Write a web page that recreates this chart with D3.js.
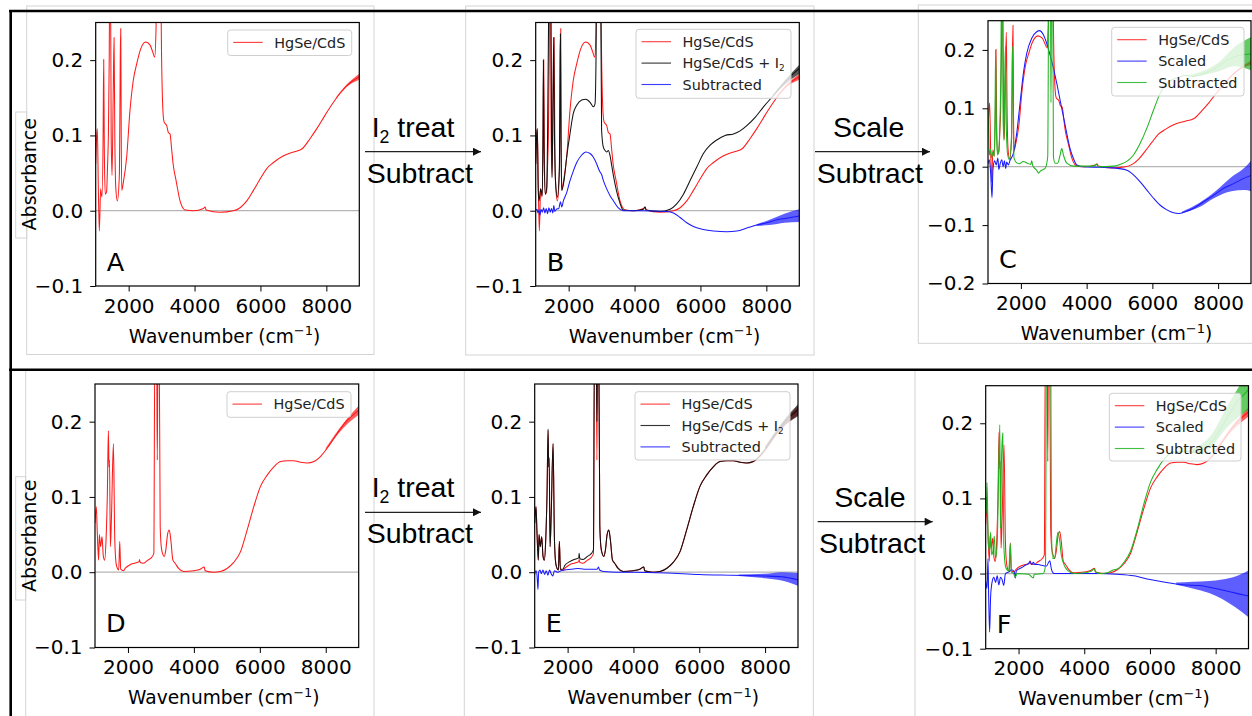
<!DOCTYPE html>
<html>
<head>
<meta charset="utf-8">
<script src="https://cdn.jsdelivr.net/npm/d3@7"></script>
<style>
  body { margin: 0; background: #fff; }
  svg { display: block; }
</style>
</head>
<body>
<svg id="fig" width="1252" height="716"></svg>
<script>
// ---- data: [wavenumber, absorbance] ----
const wnDomain = [1000, 9000];
const xTicks = [2000, 4000, 6000, 8000];
const xMinor = [1000, 1500, 2500, 3000, 3500, 4500, 5000, 5500, 6500, 7000, 7500, 8500, 9000];
const yTicks = [-0.1, 0, 0.1, 0.2];
const yTicksC = [-0.2, -0.1, 0, 0.1, 0.2];
const yMinor = [-0.08, -0.06, -0.04, -0.02, 0.02, 0.04, 0.06, 0.08, 0.12, 0.14, 0.16, 0.18, 0.22, 0.24];
const yMinorC = [-0.18, -0.16, -0.14, -0.12].concat(yMinor);

const legendA = ["HgSe/CdS"];
const legendB = ["HgSe/CdS", "HgSe/CdS + I_{2}", "Subtracted"];
const legendC = ["HgSe/CdS", "Scaled", "Subtracted"];
const panelLetters = ["A", "B", "C", "D", "E", "F"];
const stepTop = ["I_{2} treat", "Subtract"];
const stepScale = ["Scale", "Subtract"];

// top row (A, B, C)
const topHgSe = [[1000,0.062],[1030,0.1],[1050,0.109],[1080,0.03],[1110,-0.027],[1150,0.029],[1190,0.018],[1225,0.1],[1243,0.201],[1262,0.08],[1290,0.022],[1330,0.025],[1360,0.06],[1385,0.1],[1410,0.2],[1425,0.3],[1450,0.3],[1470,0.1],[1496,0.047],[1530,0.15],[1557,0.23],[1580,0.1],[1610,0.03],[1658,0.013],[1720,0.05],[1745,0.2],[1760,0.242],[1775,0.1],[1790,0.027],[1840,0.038],[1940,0.071],[2040,0.133],[2140,0.173],[2250,0.196],[2350,0.213],[2518,0.224],[2650,0.22],[2730,0.211],[2790,0.204],[2830,0.24],[2850,0.3],[2970,0.3],[3004,0.191],[3040,0.133],[3075,0.118],[3155,0.113],[3205,0.104],[3257,0.102],[3300,0.084],[3350,0.062],[3440,0.04],[3560,0.013],[3713,0.001],[3965,0.0],[4270,0.003],[4320,0.005],[4350,0.001],[4775,-0.002],[5180,0.0],[5383,0.004],[5585,0.013],[5787,0.027],[5990,0.042],[6192,0.056],[6395,0.064],[6700,0.073],[7002,0.078],[7255,0.082],[7508,0.096],[7710,0.109],[7963,0.127],[8216,0.144],[8418,0.156],[8722,0.17],[9000,0.178]];
const topHgSeNoise = [[8300,0.149,0.151],[8600,0.164,0.167],[9000,0.174,0.182]];

const topI2 = [[1000,0.062],[1030,0.1],[1050,0.109],[1075,0.03],[1100,0.013],[1150,0.029],[1200,0.02],[1220,0.1],[1233,0.2],[1255,0.08],[1290,0.022],[1335,0.031],[1360,0.098],[1390,0.25],[1405,0.3],[1460,0.3],[1480,0.1],[1496,0.044],[1525,0.15],[1547,0.23],[1570,0.1],[1600,0.04],[1658,0.018],[1720,0.06],[1740,0.2],[1750,0.235],[1765,0.1],[1790,0.027],[1860,0.04],[1940,0.071],[2040,0.102],[2140,0.129],[2245,0.14],[2397,0.147],[2518,0.148],[2650,0.144],[2750,0.138],[2800,0.142],[2830,0.2],[2850,0.3],[2970,0.3],[3000,0.107],[3055,0.084],[3105,0.08],[3155,0.078],[3205,0.08],[3257,0.073],[3300,0.062],[3370,0.044],[3450,0.027],[3550,0.011],[3650,0.001],[3965,0.0],[4270,0.002],[4320,0.005],[4350,0.001],[4775,-0.001],[5080,0.002],[5280,0.009],[5484,0.022],[5686,0.04],[5888,0.058],[6090,0.076],[6293,0.087],[6496,0.094],[6749,0.1],[7002,0.102],[7204,0.106],[7407,0.113],[7660,0.124],[7913,0.138],[8216,0.153],[8520,0.169],[8773,0.18],[9000,0.189]];
const topI2Noise = [[8200,0.152,0.154],[8600,0.169,0.175],[9000,0.182,0.194]];

const topSubB = [[1000,0.0],[1040,0.002],[1070,-0.003],[1100,0.001],[1130,-0.006],[1160,0.002],[1200,-0.002],[1240,0.004],[1280,-0.003],[1320,0.003],[1360,-0.004],[1400,0.004],[1440,-0.002],[1480,0.003],[1520,-0.003],[1550,0.007],[1580,-0.001],[1630,0.002],[1700,0.003],[1750,0.012],[1790,0.005],[1840,0.013],[1941,0.024],[2042,0.04],[2144,0.053],[2245,0.064],[2397,0.074],[2518,0.078],[2650,0.076],[2751,0.071],[2852,0.062],[2933,0.053],[2974,0.05],[3000,0.048],[3055,0.04],[3155,0.029],[3257,0.02],[3360,0.013],[3500,0.004],[3650,0.0],[4200,0.0],[4978,-0.001],[5180,-0.003],[5383,-0.009],[5585,-0.016],[5787,-0.021],[6090,-0.025],[6395,-0.027],[6800,-0.028],[7103,-0.027],[7407,-0.023],[7710,-0.019],[8014,-0.016],[8318,-0.012],[8620,-0.01],[9000,-0.007]];
const topSubBNoise = [[7700,-0.02,-0.018],[8100,-0.019,-0.012],[8550,-0.016,-0.004],[9000,-0.015,0.002]];

const topScaledC = [[1000,0.005],[1040,0.012],[1080,-0.01],[1122,-0.053],[1150,-0.005],[1200,0.01],[1250,0.003],[1300,0.015],[1330,-0.005],[1370,0.005],[1420,0.012],[1460,0.0],[1500,0.01],[1540,-0.003],[1568,0.008],[1620,0.003],[1670,0.011],[1771,0.023],[1873,0.057],[1975,0.109],[2076,0.16],[2178,0.194],[2330,0.22],[2482,0.231],[2563,0.233],[2685,0.226],[2787,0.211],[2888,0.191],[2990,0.169],[3091,0.143],[3193,0.114],[3294,0.086],[3396,0.057],[3497,0.031],[3599,0.014],[3700,0.003],[3904,0.0],[4400,-0.001],[4817,-0.002],[5223,-0.006],[5426,-0.014],[5629,-0.026],[5832,-0.04],[6036,-0.054],[6239,-0.066],[6442,-0.074],[6645,-0.079],[6797,-0.08],[7000,-0.077],[7254,-0.071],[7558,-0.06],[7863,-0.049],[8168,-0.037],[8472,-0.029],[8777,-0.02],[9000,-0.015]];
const topScaledCNoise = [[6900,-0.08,-0.077],[7400,-0.07,-0.063],[7900,-0.053,-0.043],[8400,-0.042,-0.018],[8800,-0.04,-0.002],[9000,-0.042,0.01]];

const topSubC = [[1000,0.097],[1020,0.06],[1040,0.02],[1080,0.03],[1110,0.015],[1150,0.025],[1190,0.018],[1215,0.1],[1233,0.2],[1255,0.07],[1290,0.02],[1330,0.03],[1360,0.07],[1390,0.16],[1410,0.3],[1440,0.3],[1460,0.08],[1487,0.045],[1510,0.15],[1530,0.206],[1560,0.06],[1600,0.02],[1650,0.012],[1720,0.06],[1740,0.206],[1760,0.15],[1790,0.015],[1850,0.008],[1950,0.005],[2076,0.009],[2200,0.006],[2300,0.004],[2330,0.01],[2360,0.002],[2480,-0.006],[2540,-0.011],[2600,-0.007],[2736,-0.003],[2817,0.017],[2848,0.3],[2900,0.3],[2915,0.11],[2935,0.3],[2970,0.3],[2990,0.017],[3040,0.006],[3120,0.006],[3193,0.02],[3244,0.031],[3294,0.02],[3396,0.006],[3599,0.001],[4200,0.001],[4310,0.004],[4350,0.0],[4817,0.001],[5020,0.004],[5223,0.009],[5426,0.02],[5629,0.04],[5832,0.066],[6036,0.097],[6239,0.126],[6442,0.143],[6746,0.152],[7000,0.156],[7254,0.155],[7600,0.16],[7900,0.168],[8269,0.182],[8600,0.19],[9000,0.193]];
const topSubCNoise = [[7200,0.153,0.158],[8000,0.163,0.178],[8500,0.172,0.205],[9000,0.165,0.222]];

// bottom row (D, E, F)
const botHgSe = [[1000,0.065],[1040,0.087],[1070,0.052],[1110,0.016],[1132,0.05],[1170,0.034],[1213,0.047],[1253,0.021],[1294,0.016],[1335,0.043],[1375,0.105],[1406,0.188],[1425,0.14],[1440,0.149],[1467,0.034],[1500,0.074],[1558,0.171],[1600,0.043],[1639,0.012],[1680,0.005],[1720,0.003],[1750,0.041],[1780,0.004],[1862,0.002],[1913,0.005],[2065,0.01],[2200,0.012],[2339,0.014],[2350,0.017],[2370,0.013],[2470,0.012],[2600,0.016],[2724,0.02],[2785,0.025],[2815,0.3],[2870,0.3],[2890,0.149],[2910,0.3],[2947,0.3],[2978,0.061],[3010,0.034],[3049,0.025],[3100,0.021],[3150,0.03],[3200,0.05],[3251,0.056],[3300,0.043],[3363,0.016],[3430,0.012],[3535,0.005],[3688,0.001],[3992,0.002],[4195,0.004],[4316,0.007],[4340,0.002],[4600,0.0],[4803,0.001],[5006,0.005],[5209,0.013],[5412,0.027],[5615,0.056],[5817,0.087],[6020,0.114],[6223,0.129],[6426,0.14],[6629,0.147],[6832,0.148],[7034,0.148],[7237,0.146],[7440,0.145],[7643,0.147],[7846,0.154],[8049,0.165],[8252,0.178],[8454,0.191],[8657,0.202],[8860,0.21],[9000,0.215]];
const botHgSeNoise = [[8000,0.162,0.165],[8500,0.19,0.196],[9000,0.209,0.221]];

const botI2 = [[1000,0.065],[1040,0.087],[1070,0.052],[1110,0.016],[1132,0.05],[1170,0.034],[1213,0.047],[1253,0.021],[1294,0.016],[1335,0.043],[1375,0.105],[1406,0.19],[1425,0.14],[1440,0.152],[1467,0.034],[1500,0.074],[1558,0.171],[1600,0.043],[1639,0.012],[1680,0.005],[1720,0.003],[1750,0.041],[1780,0.004],[1862,0.004],[1913,0.009],[2065,0.014],[2200,0.017],[2339,0.019],[2350,0.025],[2370,0.018],[2470,0.017],[2600,0.021],[2724,0.025],[2785,0.03],[2815,0.3],[2870,0.3],[2890,0.2],[2910,0.3],[2947,0.3],[2978,0.063],[3010,0.035],[3049,0.025],[3100,0.021],[3150,0.03],[3200,0.05],[3251,0.056],[3300,0.043],[3363,0.016],[3430,0.012],[3535,0.005],[3688,0.001],[3992,0.002],[4195,0.004],[4316,0.007],[4340,0.002],[4600,0.0],[4803,0.001],[5006,0.005],[5209,0.013],[5412,0.027],[5615,0.056],[5817,0.087],[6020,0.114],[6223,0.129],[6426,0.14],[6629,0.147],[6832,0.148],[7034,0.148],[7237,0.146],[7440,0.145],[7643,0.147],[7846,0.155],[8049,0.166],[8252,0.179],[8454,0.192],[8657,0.203],[8860,0.211],[9000,0.216]];
const botI2Noise = [[8000,0.163,0.167],[8500,0.191,0.198],[9000,0.207,0.223]];

const botSubE = [[1000,-0.003],[1040,0.002],[1070,-0.004],[1100,-0.023],[1120,0.0],[1160,0.003],[1200,-0.002],[1250,0.003],[1300,-0.003],[1350,0.002],[1400,-0.004],[1450,0.003],[1500,-0.002],[1550,-0.005],[1600,0.002],[1700,0.0],[1800,0.002],[1900,0.003],[2100,0.004],[2300,0.005],[2500,0.004],[2700,0.004],[2900,0.004],[2937,0.007],[2970,0.003],[3100,0.001],[3500,0.0],[4000,0.0],[5000,-0.001],[6000,-0.003],[7000,-0.004],[8000,-0.005],[8500,-0.006],[9000,-0.01]];
const botSubENoise = [[7200,-0.005,-0.003],[8000,-0.008,-0.002],[8500,-0.011,0.0],[9000,-0.018,-0.001]];

const botScaledF = [[1000,-0.01],[1040,-0.02],[1070,0.02],[1090,-0.03],[1120,-0.078],[1150,-0.03],[1200,-0.01],[1250,-0.005],[1300,-0.012],[1350,-0.003],[1400,-0.015],[1450,-0.005],[1500,-0.008],[1550,-0.016],[1600,0.0],[1700,0.002],[1800,0.005],[1870,0.002],[1900,-0.006],[1930,0.003],[2000,0.006],[2100,0.008],[2200,0.011],[2300,0.013],[2350,0.016],[2400,0.012],[2450,0.015],[2500,0.012],[2600,0.012],[2700,0.011],[2850,0.01],[2950,0.017],[3000,0.006],[3050,0.001],[3100,0.0],[4000,0.0],[4500,0.0],[5000,-0.001],[5500,-0.003],[6000,-0.008],[6500,-0.012],[7000,-0.015],[7500,-0.016],[8000,-0.02],[8500,-0.025],[9000,-0.03]];
const botScaledFNoise = [[6800,-0.015,-0.012],[7300,-0.02,-0.011],[7800,-0.026,-0.01],[8200,-0.034,-0.008],[8600,-0.045,-0.004],[9000,-0.058,0.004]];

const botSubF = [[1000,0.102],[1020,0.08],[1040,0.121],[1080,0.04],[1120,0.03],[1150,0.055],[1180,0.025],[1220,0.03],[1260,0.05],[1300,0.02],[1350,0.04],[1400,0.15],[1430,0.198],[1450,0.06],[1480,0.15],[1520,0.187],[1550,0.04],[1600,0.01],[1650,0.005],[1700,0.003],[1750,0.04],[1780,0.002],[1850,0.0],[1900,-0.005],[1950,0.0],[2300,-0.001],[2450,-0.006],[2480,-0.001],[2750,0.0],[2820,0.01],[2850,0.3],[2980,0.3],[3000,0.06],[3040,0.02],[3100,0.02],[3150,0.04],[3200,0.055],[3250,0.045],[3300,0.025],[3400,0.01],[3500,0.004],[3700,0.0],[4000,0.001],[4200,0.003],[4300,0.006],[4350,0.002],[4500,0.0],[4700,0.001],[4900,0.005],[5006,0.006],[5209,0.015],[5412,0.03],[5615,0.059],[5817,0.093],[6020,0.122],[6223,0.139],[6426,0.152],[6629,0.16],[6832,0.162],[7034,0.163],[7237,0.162],[7440,0.161],[7643,0.165],[7846,0.173],[8049,0.185],[8252,0.2],[8454,0.215],[8657,0.229],[8860,0.238],[9000,0.245]];
const botSubFNoise = [[7200,0.159,0.165],[7800,0.167,0.181],[8400,0.197,0.226],[9000,0.218,0.27]];

// ---- styling ----
const RED = "#ff1a1a", BLACK = "#111", BLUE = "#1a1aff", GREEN = "#1fb51f";
const TICK_FONT = "DejaVu Sans, Verdana, sans-serif";
const ARROW_FONT = "Liberation Sans, Arial, Helvetica, sans-serif";

const svg = d3.select("#fig");
svg.append("rect").attr("width", 1252).attr("height", 716).attr("fill", "#fff");

// text with _{sub} and ^{sup} parts; the shift is undone on the next part
function rich(sel, str, size) {
  const parts = str.split(/(_\{[^}]*\}|\^\{[^}]*\})/).filter(s => s.length);
  let back = 0;
  parts.forEach(s => {
    if (s.startsWith("_{")) {
      const k = size * 0.22;
      sel.append("tspan").attr("dy", back + k).attr("font-size", size * 0.62).text(s.slice(2, -1));
      back = -k;
    } else if (s.startsWith("^{")) {
      const k = -size * 0.4;
      sel.append("tspan").attr("dy", back + k).attr("font-size", size * 0.7).text(s.slice(2, -1));
      back = -k;
    } else {
      const t = sel.append("tspan").text(s);
      if (back) t.attr("dy", back);
      back = 0;
    }
  });
}

// pasted-image boxes
const boxes = [
  [26.7, 6, 347.3, 348.5], [15.7, 112, 11, 126],
  [465.7, 6, 348.3, 349], [918.3, 5, 340, 338.3],
  [25.7, 370.5, 348.3, 350], [15.7, 476.7, 10, 123.3],
  [464.3, 370.5, 349, 350], [915, 370.5, 340, 350]
];
svg.append("g").selectAll("rect").data(boxes).join("rect")
  .attr("x", d => d[0]).attr("y", d => d[1]).attr("width", d => d[2]).attr("height", d => d[3])
  .attr("fill", "none").attr("stroke", "#d4d4d4").attr("stroke-width", 1);

const panels = [
  { x0: 95.7, x1: 359.3, y0: 22.5, y1: 286, yDomain: [-0.1, 0.25], yTicks, yMinor, yLabel: true,
    series: [[topHgSe, topHgSeNoise, RED]], names: legendA, legend: [227.7, 30, 124, 25.5] },
  { x0: 535.7, x1: 799.3, y0: 22.5, y1: 286, yDomain: [-0.1, 0.25], yTicks, yMinor,
    series: [[topHgSe, topHgSeNoise, RED], [topI2, topI2Noise, BLACK], [topSubB, topSubBNoise, BLUE]],
    names: legendB, legend: [636, 29.3, 155, 69] },
  { x0: 988, x1: 1251, y0: 20.7, y1: 283.5, yDomain: [-0.2, 0.25], yTicks: yTicksC, yMinor: yMinorC,
    series: [[topHgSe, topHgSeNoise, RED], [topScaledC, topScaledCNoise, BLUE], [topSubC, topSubCNoise, GREEN]],
    names: legendC, legend: [1111.7, 27.3, 132.3, 68.7] },
  { x0: 95, x1: 358.7, y0: 384, y1: 647.5, yDomain: [-0.1, 0.25], yTicks, yMinor, yLabel: true,
    series: [[botHgSe, botHgSeNoise, RED]], names: legendA, legend: [227, 391.7, 124, 25.6] },
  { x0: 534.7, x1: 798, y0: 384, y1: 647.5, yDomain: [-0.1, 0.25], yTicks, yMinor,
    series: [[botHgSe, botHgSeNoise, RED], [botI2, botI2Noise, BLACK], [botSubE, botSubENoise, BLUE]],
    names: legendB, legend: [635, 391.7, 155, 68.3] },
  { x0: 985.7, x1: 1248.5, y0: 385.7, y1: 648.7, yDomain: [-0.1, 0.25], yTicks, yMinor,
    series: [[botHgSe, botHgSeNoise, RED], [botScaledF, botScaledFNoise, BLUE], [botSubF, botSubFNoise, GREEN]],
    names: legendC, legend: [1109.3, 393.3, 131.7, 67.7] }
];

panels.forEach((p, i) => {
  const x = d3.scaleLinear().domain(wnDomain).range([p.x0, p.x1]);
  const y = d3.scaleLinear().domain(p.yDomain).range([p.y1, p.y0]);
  const g = svg.append("g");
  const clipId = "clip" + i;
  svg.append("clipPath").attr("id", clipId).append("rect")
    .attr("x", p.x0).attr("y", p.y0).attr("width", p.x1 - p.x0).attr("height", p.y1 - p.y0);

  const plot = g.append("g").attr("clip-path", `url(#${clipId})`);
  plot.append("line")
    .attr("x1", p.x0).attr("x2", p.x1).attr("y1", y(0)).attr("y2", y(0))
    .attr("stroke", "#b5b5b5").attr("stroke-width", 1.2);

  const line = d3.line().x(d => x(d[0])).y(d => y(d[1])).curve(d3.curveMonotoneX);
  const band = d3.area().x(d => x(d[0])).y0(d => y(d[1])).y1(d => y(d[2])).curve(d3.curveMonotoneX);
  p.series.forEach(([data, noise, color]) => {
    plot.append("path").datum(noise).attr("d", band).attr("fill", color).attr("opacity", 0.7);
    plot.append("path").datum(data).attr("d", line)
      .attr("fill", "none").attr("stroke", color).attr("stroke-width", 1.05)
      .attr("stroke-linejoin", "round");
  });

  // axes
  const fmtY = d3.format(".1f");
  const xa = g.append("g").attr("transform", `translate(0,${p.y1})`);
  xa.call(d3.axisBottom(x).tickValues(xMinor).tickSize(3).tickFormat(""));
  xa.call(d3.axisBottom(x).tickValues(xTicks).tickSize(5.5).tickPadding(7).tickFormat(d3.format("d")));
  const ya = g.append("g").attr("transform", `translate(${p.x0},0)`);
  ya.call(d3.axisLeft(y).tickValues(p.yMinor).tickSize(3).tickFormat(""));
  ya.call(d3.axisLeft(y).tickValues(p.yTicks).tickSize(5.5).tickPadding(7).tickFormat(fmtY));
  [xa, ya].forEach(a => {
    a.selectAll(".domain").remove();
    a.selectAll("text").filter(function () { return !this.textContent; }).remove();
    a.selectAll("line").attr("stroke", "#000").attr("stroke-width", 1);
    a.selectAll("text").attr("font-family", TICK_FONT).attr("font-size", 20).attr("fill", "#000");
  });

  g.append("rect").attr("x", p.x0).attr("y", p.y0)
    .attr("width", p.x1 - p.x0).attr("height", p.y1 - p.y0)
    .attr("fill", "none").attr("stroke", "#000").attr("stroke-width", 1.2);

  // legend
  const [lx, ly, lw, lh] = p.legend;
  const lg = g.append("g");
  lg.append("rect").attr("x", lx).attr("y", ly).attr("width", lw).attr("height", lh)
    .attr("rx", 3).attr("fill", "#fff").attr("fill-opacity", 0.8)
    .attr("stroke", "#cfcfcf").attr("stroke-width", 1);
  p.names.forEach((name, k) => {
    const cy = ly + 12.4 + k * 21.4;
    lg.append("line").attr("x1", lx + 5.5).attr("x2", lx + 35).attr("y1", cy).attr("y2", cy)
      .attr("stroke", p.series[k][2]).attr("stroke-width", 1.1).attr("opacity", 0.85);
    const t = lg.append("text").attr("x", lx + 46.5).attr("y", cy + 5.2)
      .attr("font-family", TICK_FONT).attr("font-size", 14.4).attr("fill", "#222");
    rich(t, name, 14.4);
  });

  // panel letter
  g.append("text").attr("x", p.x0 + 11).attr("y", p.y1 - 15.5)
    .attr("font-family", TICK_FONT).attr("font-size", 25.5).attr("fill", "#000")
    .text(panelLetters[i]);

  // axis titles
  const xt = g.append("text").attr("x", (p.x0 + p.x1) / 2 - 3).attr("y", p.y1 + 56.5)
    .attr("text-anchor", "middle").attr("font-family", TICK_FONT).attr("font-size", 18.6).attr("fill", "#000");
  rich(xt, "Wavenumber (cm^{\u22121})", 18.6);
  if (p.yLabel) {
    g.append("text")
      .attr("transform", `translate(36,${(p.y0 + p.y1) / 2 + 20}) rotate(-90)`)
      .attr("text-anchor", "middle").attr("font-family", TICK_FONT).attr("font-size", 19).attr("fill", "#000")
      .text("Absorbance");
  }
});

// process arrows between panels
svg.append("defs").append("marker").attr("id", "head")
  .attr("viewBox", "0 0 10 10").attr("refX", 10).attr("refY", 5)
  .attr("markerWidth", 10).attr("markerHeight", 8).attr("markerUnits", "userSpaceOnUse")
  .attr("orient", "auto")
  .append("path").attr("d", "M0,0L10,5L0,10Z").attr("fill", "#111");

const arrows = [
  { labels: stepTop, x1: 365, x2: 481, y: 151.7, tx: [371.7, 366.7], ty: [136.7, 183] },
  { labels: stepScale, x1: 815, x2: 930, y: 151.7, tx: [833, 816.7], ty: [136.7, 183] },
  { labels: stepTop, x1: 365, x2: 481, y: 512.3, tx: [371.7, 366.7], ty: [496.7, 543.3] },
  { labels: stepScale, x1: 817.7, x2: 932.7, y: 521.7, tx: [834.3, 819], ty: [506.7, 553.3] }
];
arrows.forEach(a => {
  svg.append("line").attr("x1", a.x1).attr("x2", a.x2).attr("y1", a.y).attr("y2", a.y)
    .attr("stroke", "#222").attr("stroke-width", 1.3).attr("marker-end", "url(#head)");
  a.labels.forEach((s, k) => {
    const t = svg.append("text").attr("x", a.tx[k]).attr("y", a.ty[k])
      .attr("font-family", ARROW_FONT).attr("font-size", 28.5).attr("fill", "#000");
    rich(t, s, 28.5);
  });
});

// black dividers
const dividers = [[9, 11, 1252, 11], [10.7, 10, 10.7, 716], [9, 369.8, 1252, 369.8]];
svg.append("g").selectAll("line").data(dividers).join("line")
  .attr("x1", d => d[0]).attr("y1", d => d[1]).attr("x2", d => d[2]).attr("y2", d => d[3])
  .attr("stroke", "#000").attr("stroke-width", 2.6);
</script>
</body>
</html>
